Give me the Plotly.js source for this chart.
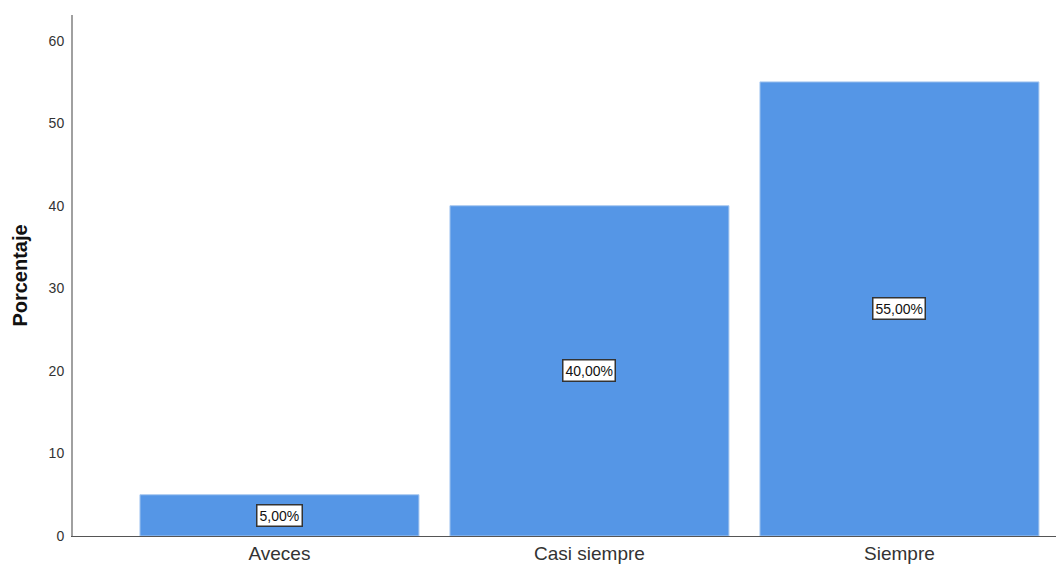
<!DOCTYPE html>
<html>
<head>
<meta charset="utf-8">
<script src="https://cdn.plot.ly/plotly-3.0.1.min.js"></script>
<style>html,body{margin:0;padding:0;background:#fff;}#chart{width:1056px;height:564px;}</style>
</head>
<body>
<div id="chart"></div>
<script>
const categories = ["Aveces", "Casi siempre", "Siempre"];
const percentages = [5, 40, 55];
const labels = ["5,00%", "40,00%", "55,00%"];
const yTickVals = [0, 10, 20, 30, 40, 50, 60];

const trace = {
  type: "bar",
  x: categories,
  y: percentages,
  width: 0.9,
  marker: {color: "#5596e6", line: {color: "#a9c9f0", width: 1}},
  hoverinfo: "skip"
};

const annotations = categories.map((c, i) => ({
  x: c, y: percentages[i] / 2, xref: "x", yref: "y",
  text: labels[i], showarrow: false,
  font: {family: "Liberation Sans, Arial, sans-serif", size: 14, color: "#111"},
  bgcolor: "#ffffff", bordercolor: "#333333", borderwidth: 1.5, borderpad: 2
}));

const layout = {
  width: 1056, height: 564,
  margin: {l: 73, r: 0, t: 15, b: 28},
  paper_bgcolor: "#ffffff", plot_bgcolor: "#ffffff",
  showlegend: false,
  font: {family: "Liberation Sans, Arial, sans-serif", color: "#222"},
  xaxis: {
    type: "category",
    range: [-0.666, 2.505],
    showgrid: false, zeroline: false,
    showline: true, linecolor: "#555555", linewidth: 1,
    ticks: "", ticklabelstandoff: 0,
    tickfont: {size: 19, color: "#333"},
    fixedrange: true
  },
  yaxis: {
    range: [0, 63.1],
    tickvals: yTickVals,
    showgrid: false, zeroline: false,
    showline: true, linecolor: "#a0a0a0", linewidth: 2,
    ticks: "", ticklabelstandoff: 4,
    tickfont: {size: 14, color: "#333"},
    title: {text: "<b>Porcentaje</b>", font: {size: 20, color: "#111"}, standoff: 16},
    fixedrange: true
  },
  annotations: annotations
};

Plotly.newPlot("chart", [trace], layout, {staticPlot: true, displayModeBar: false});
</script>
</body>
</html>
